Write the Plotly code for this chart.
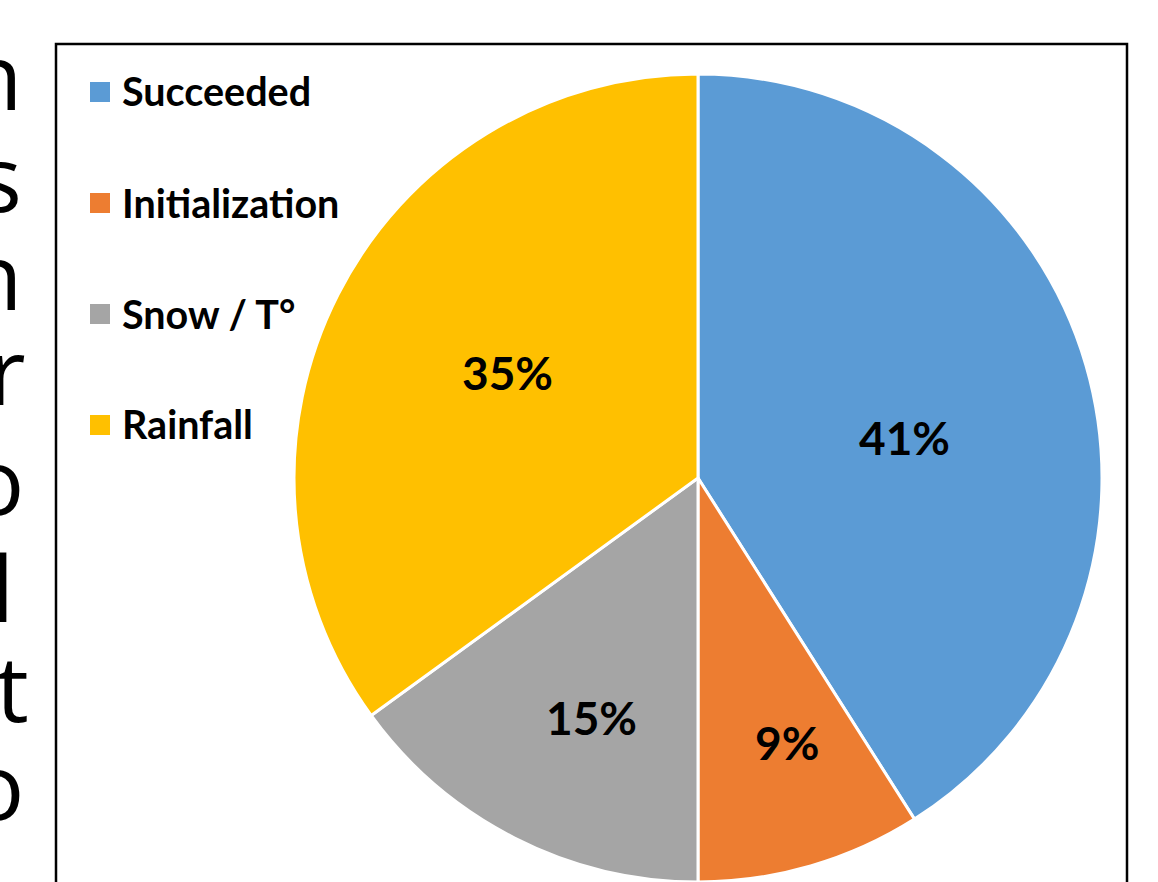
import math
import plotly.graph_objects as go

# Share of runs by outcome
labels = ["Succeeded", "Initialization", "Snow / T°", "Rainfall"]
values = [41, 9, 15, 35]
colors = ["#5B9BD5", "#ED7D31", "#A5A5A5", "#FFC000"]

# Fragments of the neighbouring body text column
side_chars = ["n", "s", "n", "r", "o", "l", "t", "o"]

W, H = 1158, 882

# Pie geometry in pixels
cx, cy, R = 698, 478, 404

def px(x):
    return x / W

def py(y):
    return 1 - y / H

fig = go.Figure()
fig.add_trace(go.Pie(
    labels=labels,
    values=values,
    sort=False,
    direction="clockwise",
    rotation=0,
    marker=dict(colors=colors, line=dict(color="white", width=3)),
    textinfo="none",
    hoverinfo="label+percent",
    showlegend=False,
    domain=dict(x=[px(cx - R), px(cx + R)], y=[py(cy + R), py(cy - R)]),
))

annotations = []

# Percentage labels placed inside each slice
label_radius = [0.52, 0.69, 0.65, 0.54]
label_shift = [5, -2.5, -3, 2]
total = sum(values)
cum = 0
for v, k, sh in zip(values, label_radius, label_shift):
    mid = (cum + v / 2) / total * 360 + sh
    cum += v
    lx = cx + k * R * math.sin(math.radians(mid))
    ly = cy - k * R * math.cos(math.radians(mid))
    annotations.append(dict(
        x=px(lx), y=py(ly), xref="paper", yref="paper",
        text=f"{round(v / total * 100)}%", showarrow=False,
        xanchor="center", yanchor="middle",
        font=dict(family="Lato", size=46, color="black", weight="bold"),
    ))

# Legend drawn as squares with text
shapes = []
leg_x, leg_y0, leg_dy, sq = 90, 92, 111, 20
for i, (lab, col) in enumerate(zip(labels, colors)):
    yc = leg_y0 + i * leg_dy
    shapes.append(dict(
        type="rect", xref="paper", yref="paper",
        x0=px(leg_x), x1=px(leg_x + sq), y0=py(yc + sq / 2), y1=py(yc - sq / 2),
        fillcolor=col, line=dict(width=0),
    ))
    annotations.append(dict(
        x=px(leg_x + sq + 10), y=py(yc - 1), xref="paper", yref="paper",
        text=lab, showarrow=False, xanchor="left", yanchor="middle",
        font=dict(family="Lato", size=39.5, color="black", weight="bold"),
    ))

# Chart frame
shapes.append(dict(
    type="rect", xref="paper", yref="paper",
    x0=px(56), x1=px(1127), y0=py(H + 40), y1=py(44),
    line=dict(color="black", width=2.5), fillcolor="rgba(0,0,0,0)", layer="below",
))

# Body text column cut by the page edge
side_baselines = [110, 212, 310, 405, 515, 622, 722, 820]
side_right = [18, 18, 18, 22, 20, 10, 25, 20]
for ch, base, right in zip(side_chars, side_baselines, side_right):
    annotations.append(dict(
        x=px(right + 6), y=py(base - 36), xref="paper", yref="paper",
        text=ch, showarrow=False, xanchor="right", yanchor="middle",
        height=96, valign="middle",
        font=dict(family="Open Sans", size=92, color="black"),
    ))

fig.update_layout(
    width=W, height=H,
    margin=dict(l=0, r=0, t=0, b=0),
    paper_bgcolor="white",
    plot_bgcolor="white",
    shapes=shapes,
    annotations=annotations,
)

fig.write_html("out.html")
